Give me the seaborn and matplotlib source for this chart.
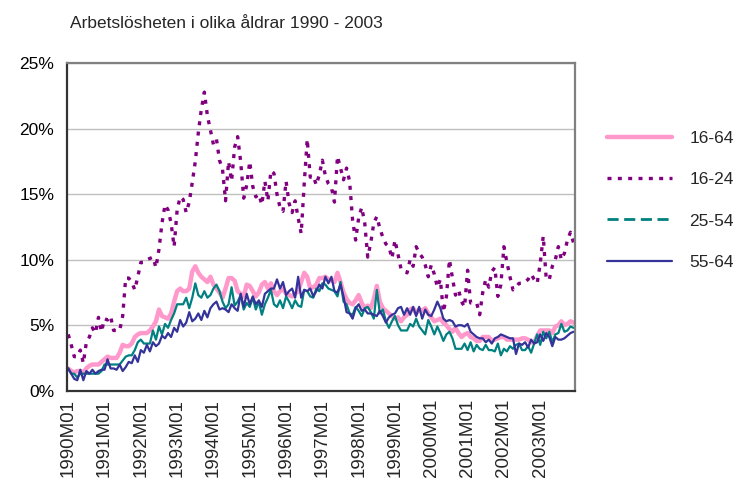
import numpy as np
import pandas as pd
import matplotlib
matplotlib.use("Agg")
import matplotlib.pyplot as plt
from matplotlib.lines import Line2D
import seaborn as sns

title = "Arbetslösheten i olika åldrar 1990 - 2003"
years = list(range(1990, 2004))
series_names = ["16-64", "16-24", "25-54", "55-64"]

# monthly unemployment (%), one row per year 1990..2003
u16_64 = [
    1.7, 1.5, 1.4, 1.5, 1.5, 1.4, 1.7, 1.9, 2.0, 2.0, 2.0, 2.2,
    2.4, 2.6, 2.5, 2.5, 2.5, 2.9, 3.5, 3.4, 3.4, 3.6, 4.1, 4.3,
    4.4, 4.4, 4.4, 4.6, 4.9, 5.3, 6.2, 5.7, 5.6, 5.5, 5.9, 6.8,
    7.6, 7.8, 7.6, 7.6, 7.8, 9.1, 9.5, 9.0, 8.7, 8.5, 8.3, 8.7,
    8.1, 7.8, 7.5, 7.1, 7.8, 8.6, 8.6, 8.4, 7.6, 7.4, 7.2, 8.1,
    8.0, 7.6, 7.2, 7.5, 8.1, 8.3, 7.8, 8.2, 7.6, 7.3, 7.6, 7.8,
    7.4, 7.3, 7.2, 7.4, 7.6, 8.3, 9.0, 8.7, 7.8, 7.9, 8.1, 8.6,
    8.6, 8.7, 8.5, 8.4, 8.3, 9.0, 8.3, 7.5, 7.0, 6.7, 6.6, 6.9,
    7.3, 6.7, 6.3, 6.5, 6.3, 7.0, 8.0, 6.8, 6.3, 6.1, 5.9, 5.7,
    5.5, 5.6, 5.3, 5.6, 5.8, 6.2, 6.3, 5.9, 6.2, 6.1, 6.3, 5.9,
    5.6, 5.3, 5.4, 5.5, 5.2, 5.0, 4.7, 4.5, 4.8, 4.4, 4.1, 4.3,
    4.4, 4.1, 4.0, 3.8, 3.8, 4.1, 4.1, 4.1, 3.8, 3.9, 4.0, 4.1,
    4.1, 3.9, 3.9, 3.9, 3.9, 3.9, 4.0, 4.0, 3.9, 3.7, 3.7, 4.2,
    4.6, 4.6, 4.6, 4.6, 4.4, 4.9, 5.0, 5.3, 5.0, 5.1, 5.3, 5.2,
]
u16_24 = [
    4.3, 3.5, 2.6, 2.6, 3.1, 2.1, 3.7, 4.1, 4.8, 4.4, 5.6, 4.5,
    5.5, 5.4, 5.7, 4.6, 4.6, 4.6, 5.7, 8.6, 8.6, 8.3, 7.7, 8.7,
    9.8, 9.8, 10.0, 10.1, 10.2, 9.4, 10.8, 12.8, 14.2, 13.8, 12.8, 11.0,
    13.8, 14.8, 14.6, 13.6, 14.4, 15.9, 17.5, 19.7, 21.5, 22.8, 21.0, 19.9,
    18.8, 19.2, 17.6, 16.9, 14.5, 17.5, 16.0, 18.6, 19.4, 17.5, 14.7, 15.7,
    17.5, 15.6, 14.8, 15.0, 14.2, 16.0, 14.5, 16.8, 16.6, 15.0, 14.0, 13.7,
    16.0, 14.3, 13.6, 14.5, 13.2, 12.0, 15.8, 19.2, 16.3, 16.4, 15.7, 16.5,
    17.6, 16.4, 15.8, 15.5, 14.4, 17.9, 17.0, 16.1, 17.0, 16.0, 13.0, 11.5,
    13.2, 14.0, 12.8, 10.2, 11.3, 12.8, 13.3, 12.4, 11.7, 11.2, 11.0, 10.1,
    11.5, 10.4, 9.3, 9.1, 9.0, 10.0, 9.5, 11.0, 10.5, 10.2, 9.6, 8.7,
    9.6, 8.9, 7.9, 8.5, 6.0, 7.2, 10.0, 8.6, 7.3, 7.7, 6.8, 6.4,
    9.2, 6.7, 6.7, 6.7, 5.8, 7.5, 8.5, 7.9, 9.1, 9.4, 7.2, 8.1,
    11.0, 9.8, 8.7, 7.7, 7.9, 8.2, 8.2, 8.3, 8.5, 8.9, 8.5, 8.2,
    9.7, 11.8, 8.5, 8.5, 9.5, 10.0, 11.0, 10.0, 10.5, 11.5, 12.1, 11.3,
]
u25_54 = [
    1.7, 1.3, 1.3, 1.0, 1.3, 1.3, 1.3, 1.3, 1.3, 1.3, 1.3, 1.5,
    2.0, 2.0, 2.0, 2.0, 2.0, 2.0, 2.3, 2.6, 2.7, 2.7, 3.1, 3.7,
    3.9, 3.6, 3.6, 3.6, 4.6, 3.9, 4.9, 4.3, 5.1, 4.8, 5.4, 5.9,
    6.6, 6.6, 6.6, 7.1, 6.3, 7.1, 8.2, 7.3, 7.1, 7.6, 7.1, 7.3,
    7.8, 8.1, 7.6, 6.8, 6.3, 6.6, 7.9, 6.5, 6.8, 7.3, 6.2, 6.7,
    6.4, 7.1, 6.2, 6.8, 5.8, 6.6, 7.1, 7.7, 6.6, 6.4, 6.9, 6.3,
    7.2, 6.8, 6.3, 6.9, 6.5, 6.4, 7.7, 7.6, 7.2, 7.1, 7.8, 7.6,
    8.2, 8.1, 7.8, 7.7, 7.6, 7.2, 8.3, 6.8, 6.6, 5.9, 5.8, 6.4,
    6.1, 5.7, 6.3, 6.4, 6.0, 5.5, 7.7, 5.9, 6.2, 5.3, 4.8, 5.3,
    5.7, 5.0, 4.6, 4.6, 4.6, 5.1, 4.9, 5.5, 4.9, 4.6, 4.3, 5.4,
    4.9, 4.3, 4.9, 4.4, 3.8, 4.3, 4.5, 4.0, 3.2, 3.2, 3.2, 3.6,
    3.1, 3.7, 3.0, 3.5, 3.2, 3.1, 3.5, 3.1, 3.1, 3.0, 3.6, 2.7,
    3.2, 3.0, 3.4, 3.2, 3.5, 3.6, 3.1, 3.1, 3.4, 2.9, 3.6, 4.3,
    3.5, 4.5, 4.0, 4.5, 3.7, 4.3, 4.4, 5.1, 4.5, 4.6, 4.9, 4.8,
]
u55_64 = [
    1.7, 1.3, 0.9, 0.8, 1.6, 0.8, 1.5, 1.3, 1.6, 1.3, 1.5, 1.6,
    1.6, 2.4, 1.7, 1.7, 1.6, 2.0, 1.5, 1.8, 2.2, 2.1, 2.7, 2.2,
    3.1, 2.9, 3.5, 3.0, 3.7, 3.4, 3.6, 4.2, 4.0, 4.4, 4.1, 4.8,
    4.5, 5.4, 4.9, 5.2, 6.0, 5.3, 5.5, 5.9, 5.4, 6.1, 5.6, 6.3,
    6.6, 6.8, 6.2, 6.3, 6.2, 6.0, 6.6, 6.3, 6.1, 7.4, 6.4, 7.4,
    6.6, 7.2, 6.6, 6.9, 6.4, 7.4, 7.6, 7.8, 7.8, 8.5, 7.8, 8.3,
    7.3, 7.6, 7.8, 7.1, 8.7, 7.1, 7.7, 7.6, 7.8, 7.2, 7.6, 8.1,
    7.8, 8.7, 8.2, 8.7, 7.6, 7.5, 8.1, 7.2, 6.0, 5.9, 5.5, 6.3,
    6.6, 6.1, 6.2, 5.9, 5.9, 5.8, 5.7, 6.1, 5.7, 5.2, 5.6, 5.8,
    5.9, 6.3, 6.4, 5.8, 6.3, 5.8, 6.4, 5.7, 6.4, 5.5, 6.2, 5.8,
    5.7, 6.2, 6.8, 6.3, 5.5, 5.3, 5.4, 5.3, 4.9, 5.0, 5.0, 4.9,
    5.1, 4.5, 4.3, 4.1, 4.0, 4.0, 3.7, 3.9, 3.6, 4.0, 4.1, 4.3,
    4.2, 4.1, 4.0, 4.0, 2.8, 3.6, 3.5, 3.7, 3.3, 3.9, 3.6, 3.7,
    4.3, 3.8, 4.4, 4.1, 3.4, 4.1, 3.9, 3.9, 4.0, 4.2, 4.4, 4.5,
]

months = [f"{y}M{m:02d}" for y in years for m in range(1, 13)]
year_labels = [f"{y}M01" for y in years]

df = pd.DataFrame({
    "idx": np.arange(len(months)),
    "16-64": u16_64, "16-24": u16_24, "25-54": u25_54, "55-64": u55_64,
})

sns.set_style("white")
plt.rcParams["font.family"] = ["Liberation Sans", "DejaVu Sans"]

W, H = 734, 486
fig = plt.figure(figsize=(W / 100, H / 100), dpi=100)
x0, x1, y0, y1 = 66.7, 575.0, 63.3, 390.7
ax = fig.add_axes([x0 / W, 1 - y1 / H, (x1 - x0) / W, (y1 - y0) / H])

styles = {
    "16-64": dict(color="#ff99cc", linewidth=3.2, linestyle="-"),
    "16-24": dict(color="#800080", linewidth=2.4, linestyle=(0, (1.2, 1.9))),
    "25-54": dict(color="#008080", linewidth=1.6, linestyle="-"),
    "55-64": dict(color="#333399", linewidth=1.6, linestyle="-"),
}
for name in series_names:
    sns.lineplot(data=df, x="idx", y=name, ax=ax, legend=False,
                 solid_joinstyle="round", **styles[name])

ax.set_xlim(-0.5, len(months) - 0.5)
ax.set_ylim(0, 25)
ax.set_xlabel("")
ax.set_ylabel("")

ax.set_yticks([0, 5, 10, 15, 20, 25])
ax.set_yticklabels([f"{v}%" for v in [0, 5, 10, 15, 20, 25]], fontsize=12.5)
ax.yaxis.grid(True, color="#c0c0c0", linewidth=1.0)
ax.set_axisbelow(True)

ax.set_xticks(np.arange(0, len(months), 12))
ax.set_xticklabels(year_labels, rotation=90, fontsize=13.5)
ax.set_xticks(np.arange(-0.5, len(months), 6), minor=True)
ax.tick_params(axis="x", which="major", length=0, pad=6)
ax.tick_params(axis="x", which="minor", length=5, width=1.2, colors="#333333", direction="out")
ax.tick_params(axis="y", which="major", length=5, width=1.2, color="#333333",
               labelcolor="#000000", direction="out", pad=4)

for s in ["left", "bottom"]:
    ax.spines[s].set_color("#333333")
    ax.spines[s].set_linewidth(1.6)
for s in ["top", "right"]:
    ax.spines[s].set_color("#808080")
    ax.spines[s].set_linewidth(1.6)

fig.text(70 / W, 1 - 23 / H, title, fontsize=12.5, ha="left", va="center")

handles = [
    Line2D([0], [0], color="#ff99cc", linewidth=3.2, linestyle="-"),
    Line2D([0], [0], color="#800080", linewidth=2.4, linestyle=(0, (1.2, 1.9))),
    Line2D([0], [0], color="#008080", linewidth=2.0, linestyle=(0, (4, 2))),
    Line2D([0], [0], color="#333399", linewidth=1.6, linestyle="-"),
]
fig.legend(handles, series_names, loc="upper left",
           bbox_to_anchor=(607 / W, 1 - 131 / H), frameon=False,
           fontsize=12.5, handlelength=3.75, handletextpad=1.0,
           labelspacing=1.5, borderpad=0, borderaxespad=0)

fig.savefig("out.png", dpi=100)
